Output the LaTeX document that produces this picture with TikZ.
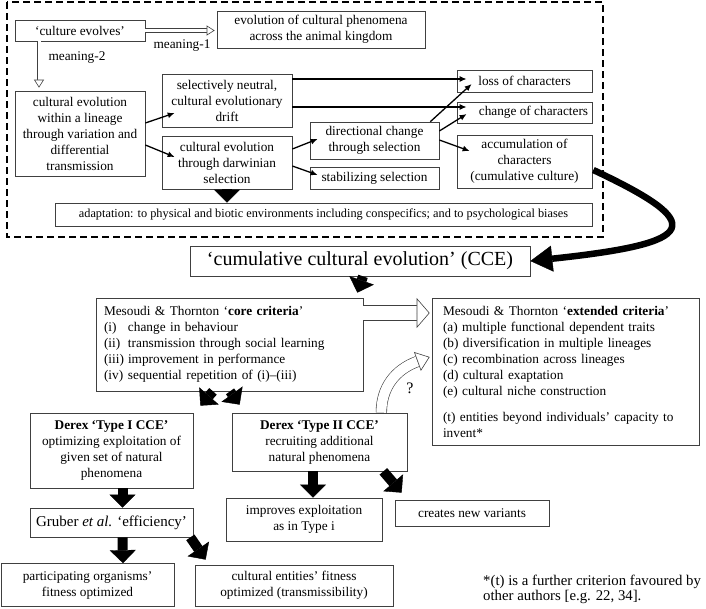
\documentclass[tikz,border=0pt]{standalone}
\usepackage{fontspec}
\setmainfont{Liberation Serif}
\usetikzlibrary{arrows.meta,calc}

\begin{document}
\begin{tikzpicture}[x=1pt, y=1pt,
  box/.style={draw=black!75, line width=0.7pt, align=center, inner sep=2pt, font=\fontsize{13.3}{16}\selectfont},
  lbl/.style={inner sep=0pt, font=\fontsize{13.3}{16}\selectfont},
  frame/.style={line width=1.6pt, dash pattern=on 7pt off 4pt},
  thin/.style={line width=1.3pt, -{Latex[length=7pt,width=6pt]}},
  fat/.style={line width=10pt, -{Triangle[length=13pt,width=26pt,line width=0.4pt]}},
  bigcurve/.style={line width=6.5pt, -{Triangle[length=22pt,width=26pt,line width=0.4pt]}},
  hollow/.style={draw=black!75, line width=0.6pt, double=white, double distance=#1},
  hollowtip/.style 2 args={draw=black!75, line width=0.6pt, -{Triangle[length=#1,width=#2,fill=white]}}]
 \useasboundingbox (0,0) rectangle (706,-608);
 \draw[frame] (7,-2) rectangle (603,-237);
 % upper block
 \node[box, minimum width=130pt, minimum height=21pt] (evolves) at (80,-30.5) {`culture evolves'};
 \node[box, minimum width=208pt, minimum height=37pt] (animal) at (321,-29.5) {evolution of cultural phenomena\\ across the animal kingdom};
 \node[lbl] (m1) at (182,-46) {meaning-1};
 \node[lbl] (m2) at (77,-58) {meaning-2};
 \node[box, minimum width=130pt, minimum height=85pt] (lineage) at (80,-133.5) {cultural evolution\\ within a lineage\\ through variation and\\ differential\\ transmission};
 \node[box, minimum width=130pt, minimum height=53pt] (neutral) at (227,-100.5) {selectively neutral,\\ cultural evolutionary\\ drift};
 \node[box, minimum width=130pt, minimum height=53pt] (darwin) at (227,-162.5) {cultural evolution\\ through darwinian\\ selection};
 \node[box, minimum width=129pt, minimum height=37pt] (directional) at (374.5,-140.5) {directional change\\ through selection};
 \node[box, minimum width=129pt, minimum height=22pt] (stabilizing) at (374.5,-178) {stabilizing selection};
 \node[box, minimum width=135pt, minimum height=22pt] (loss) at (524.5,-81) {loss of characters};
 \node[box, minimum width=135pt, minimum height=21pt] (change) at (524.5,-112.5) {\hspace*{18pt}change of characters};
 \node[box, minimum width=135pt, minimum height=53pt] (accum) at (524.5,-161.5) {accumulation of\\ characters\\ (cumulative culture)};
 \node[box, minimum width=537pt, minimum height=23pt, font=\fontsize{12.3}{14}\selectfont] (adapt) at (323.5,-214.5) {adaptation: to physical and biotic environments including conspecifics; and to psychological biases};
 % lower block
 \node[box, minimum width=340pt, minimum height=30pt, font=\fontsize{20}{22}\selectfont] (cce) at (360,-261) {`cumulative cultural evolution' (CCE)};
 \node[box, minimum width=267pt, minimum height=93pt, text width=251pt, inner xsep=8pt, align=left] (core) at (229.5,-344.5) {Mesoudi \& Thornton `\textbf{core criteria}'\\
   \makebox[24pt][l]{(i)}change in behaviour\\
   \makebox[24pt][l]{(ii)}transmission through social learning\\
   \makebox[24pt][l]{(iii)}improvement in performance\\
   \makebox[24pt][l]{(iv)}sequential repetition of (i)--(iii)};
 \node[box, minimum width=267pt, minimum height=147pt, text width=245pt, inner xsep=11pt, align=left] (ext) at (565.5,-371.5) {Mesoudi \& Thornton `\textbf{extended criteria}'\\
   (a) multiple functional dependent traits\\
   (b) diversification in multiple lineages\\
   (c) recombination across lineages\\
   (d) cultural exaptation\\
   (e) cultural niche construction\\[10pt]
   (t) entities beyond individuals' capacity to\\ invent*};
 \node[box, minimum width=163pt, minimum height=75pt] (type1) at (111.5,-450.5) {\textbf{Derex `Type I CCE'}\\ optimizing exploitation of\\ given set of natural\\ phenomena};
 \node[box, minimum width=175pt, minimum height=58pt] (type2) at (319.5,-442) {\textbf{Derex `Type II CCE'}\\ recruiting additional\\ natural phenomena};
 \node[box, minimum width=163pt, minimum height=29pt, font=\fontsize{15}{17}\selectfont] (gruber) at (111.5,-522.5) {Gruber \emph{et al.} `efficiency'};
 \node[box, minimum width=156pt, minimum height=43pt] (improves) at (304,-519.5) {improves exploitation\\ as in Type i};
 \node[box, minimum width=154pt, minimum height=26pt] (creates) at (472,-513) {creates new variants};
 \node[box, minimum width=173pt, minimum height=43pt] (particip) at (87.5,-585) {participating organisms'\\ fitness optimized};
 \node[box, minimum width=198pt, minimum height=41pt] (entities) at (294,-585.5) {cultural entities' fitness\\ optimized (transmissibility)};
 \node[lbl, font=\fontsize{16}{18}\selectfont] (qmark) at (410,-388) {?};
 \node[anchor=west, align=left, inner sep=0pt, font=\fontsize{14.8}{15.5}\selectfont] (note) at (483,-589.5) {*(t) is a further criterion favoured by\\ other authors [e.g. 22, 34].};
 % hollow arrows
 \coordinate (m1tip) at ($(evolves.east -| animal.west)+(-2,0)$);
 \draw[hollow=3pt] (evolves.east) -- ($(m1tip)+(-8,0)$);
 \draw[hollowtip={8pt}{10pt}] ($(m1tip)+(-8,0)$) -- (m1tip);
 \coordinate (m2tip) at ($(lineage.north)+(-41,3)$);
 \draw[hollow=3pt] ($(evolves.south)+(-41,0)$) -- ($(m2tip)+(0,8)$);
 \draw[hollowtip={8pt}{10pt}] ($(m2tip)+(0,8)$) -- (m2tip);
 \coordinate (exttip) at ($(ext.west)+(-2,58.5)$);
 \draw[hollow=14pt] (core.east |- exttip) -- ($(exttip)+(-13,0)$);
 \draw[hollowtip={13pt}{30pt}] ($(exttip)+(-13,0)$) -- (exttip);
 \coordinate (qtip) at ($(ext.west)+(-2,14.5)$);
 \draw[hollow=10pt] ($(type2.north east)+(-26,0)$) to[out=90,in=200] ($(qtip)+(200:13)$);
 \draw[hollowtip={13pt}{20pt}] ($(qtip)+(200:13)$) -- (qtip);
 % thin arrows
 \draw[thin] ($(lineage.east)+(0,10.5)$) -- ($(neutral.west)+(13,-12.5)$);
 \draw[thin] ($(lineage.east)+(0,-11.5)$) -- ($(darwin.west)+(13,5.5)$);
 \draw[thin] ($(neutral.east)+(0,21.5)$) -- ($(loss.west)+(10,2)$);
 \draw[thin] ($(neutral.east)+(0,-6.5)$) -- ($(change.west)+(10,5.5)$);
 \draw[thin] ($(directional.north east)+(-9,0)$) -- ($(loss.west)+(15,-3)$);
 \draw[thin] ($(directional.east)+(0,9.5)$) -- ($(change.west)+(10,-1.5)$);
 \draw[thin] ($(directional.east)+(0,0.5)$) -- ($(accum.west)+(13,10.5)$);
 \draw[thin] ($(darwin.east)+(0,13.5)$) -- ($(directional.west)+(8,1.5)$);
 \draw[thin] ($(darwin.east)+(0,-3.5)$) -- ($(stabilizing.west)+(8,3)$);
 % thick arrows
 \draw[fat] (darwin.south) -- (darwin.south |- adapt.north);
 \draw[bigcurve] ($(accum.east)+(1,-8.5)$) .. controls +(115,-54) and +(170,18) .. (cce.east);
 \draw[fat] ($(cce.south)+(3,0)$) -- ($(core.north east)+(-6,5)$);
 \draw[fat] ($(core.south)+(-16.5,0)$) -- ($(type1.north east)+(7,7)$);
 \draw[fat] ($(core.south)+(0.5,0)$) -- ($(type2.north west)+(8,8)$);
 \draw[fat] ($(type1.south)+(11,0)$) -- ($(gruber.north)+(11,0)$);
 \draw[fat] ($(gruber.south)+(11,0)$) -- ($(particip.north)+(35.5,0)$);
 \draw[fat] ($(gruber.south east)+(-3,0)$) -- ($(entities.north west)+(11,5)$);
 \draw[fat] ($(type2.south)+(-6.5,0)$) -- ($(improves.north)+(9,0)$);
 \draw[fat] ($(type2.south east)+(-24,0)$) -- ($(creates.north west)+(7,7)$);
\end{tikzpicture}
\end{document}
